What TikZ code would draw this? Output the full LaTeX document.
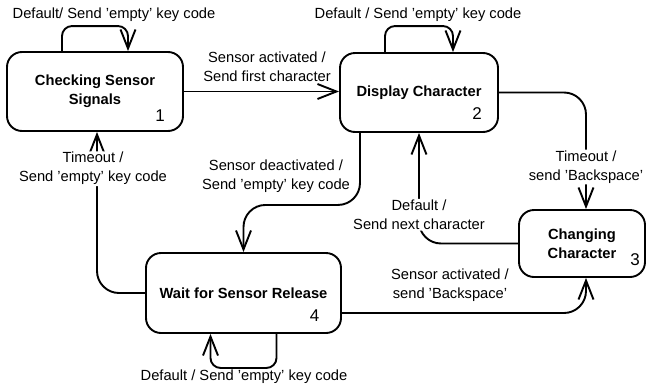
\documentclass[tikz,border=0pt]{standalone}
\usepackage{fontspec}
\setmainfont{Liberation Sans}
\usetikzlibrary{arrows.meta,calc}
\begin{document}
\begin{tikzpicture}[x=1pt,y=-1pt,
  font=\fontsize{14.7}{19}\selectfont,
  state/.style={draw,line width=1.9pt,rounded corners=15pt,align=center,
    inner sep=0pt,font=\fontsize{14.7}{19}\selectfont\bfseries},
  num/.style={inner sep=0pt,font=\fontsize{17}{19}\selectfont},
  lbl/.style={align=center,inner sep=1pt},
  lblw/.style={align=center,inner sep=1pt,fill=white},
  tip/.style={-{Straight Barb[length=19pt,width=15pt,line width=1.9pt]}},
  trans/.style={line width=1.9pt,rounded corners=22pt,tip},
  loop/.style={line width=1.9pt,rounded corners=10pt,tip}]
\useasboundingbox (0,0) rectangle (650,386);

% states
\node[state,minimum width=176pt,minimum height=79pt] (s1) at (95,91.5) {Checking Sensor\\Signals};
\node[state,minimum width=158pt,minimum height=79pt] (s2) at (419,92.5) {Display Character};
\node[state,minimum width=126pt,minimum height=67pt] (s3) at (582,243.5) {Changing\\Character};
\node[state,minimum width=195pt,minimum height=80pt] (s4) at (243.5,293) {Wait for Sensor Release};

% state numbers
\node[num] (n1) at ($(s1)+(65,24)$) {1};
\node[num] (n2) at ($(s2)+(58,21)$) {2};
\node[num] (n3) at ($(s3)+(53,16)$) {3};
\node[num] (n4) at ($(s4)+(71,23)$) {4};

% self loops
\draw[loop] ($(s1.north)+(-33,0)$) -- ++(0,-25) -| ($(s1.north)+(33,0)$);
\node[lbl] (l11) at (114,15) {Default/ Send 'empty' key code};
\draw[loop] ($(s2.north)+(-34,0)$) -- ++(0,-26) -| ($(s2.north)+(34,0)$);
\node[lbl] (l22) at (418,15) {Default / Send 'empty' key code};
\draw[loop] ($(s4.south)+(33,0)$) -- ++(0,34) -| ($(s4.south)+(-33,0)$);
\node[lbl] (l44) at (244,377) {Default / Send 'empty' key code};

% transitions
\draw[trans] (s1.east) -- (s1.east -| s2.west);
\node[lbl] (l12) at (267,67) {Sensor activated /\\Send first character};

\draw[trans] (s2.east) -| ($(s3.north)+(4,0)$)
  node[lblw,pos=0.82] (l23) {Timeout /\\send 'Backspace'};

\draw[trans] (s3.west) -| (s2.south)
  node[lblw,pos=0.63] (l32) {Default /\\Send next character};

\draw[trans] ($(s2.south)+(-59,0)$) -- ++(0,72) -| (s4.north);
\node[lbl] (l24) at (276,176) {Sensor deactivated /\\Send 'empty' key code};

\draw[trans] (s4.west) -| ($(s1.south)+(2,0)$)
  node[lblw,pos=0.886,xshift=-4pt] (l41) {Timeout /\\Send 'empty' key code};

\draw[trans] ($(s4.east)+(0,20)$) -| ($(s3.south)+(4,0)$);
\node[lbl] (l43) at (450,285) {Sensor activated /\\send 'Backspace'};
\end{tikzpicture}
\end{document}
